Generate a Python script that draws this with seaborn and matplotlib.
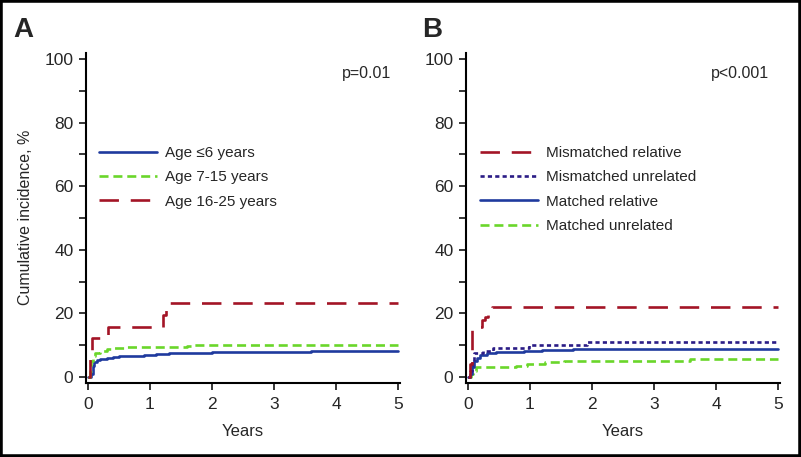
import numpy as np
import pandas as pd
import matplotlib
matplotlib.use('Agg')
import matplotlib.pyplot as plt
import seaborn as sns
from matplotlib.ticker import MultipleLocator
from matplotlib.patches import Rectangle

# panel A: cumulative incidence by age group (years, %)
age_le6_x = [0, 0.05, 0.08, 0.1, 0.15, 0.2, 0.3, 0.4, 0.5, 0.7, 0.9, 1.0, 1.1, 1.3, 1.6, 2.0, 3.6, 5.0]
age_le6_y = [0, 1.0, 3.5, 4.8, 5.4, 5.8, 6.1, 6.4, 6.6, 6.7, 6.8, 7.0, 7.3, 7.5, 7.6, 7.8, 8.1, 8.1]
age_7_15_x = [0, 0.03, 0.05, 0.08, 0.12, 0.2, 0.3, 0.4, 0.6, 1.6, 1.7, 5.0]
age_7_15_y = [0, 2.0, 5.0, 6.5, 7.5, 8.3, 8.8, 9.2, 9.3, 9.6, 10.0, 10.0]
age_16_25_x = [0, 0.03, 0.07, 0.33, 1.21, 1.26, 5.0]
age_16_25_y = [0, 6.0, 12.3, 15.6, 19.5, 23.3, 23.3]

# panel B: cumulative incidence by donor type
mis_rel_x = [0, 0.04, 0.07, 0.22, 0.27, 0.33, 0.38, 5.0]
mis_rel_y = [0, 4.0, 15.8, 17.9, 19.0, 20.9, 22.0, 22.0]
mis_unrel_x = [0, 0.04, 0.07, 0.1, 0.25, 0.4, 0.98, 1.92, 5.0]
mis_unrel_y = [0, 2.0, 5.0, 7.5, 8.3, 9.0, 9.9, 10.9, 10.9]
mat_rel_x = [0, 0.03, 0.06, 0.09, 0.14, 0.2, 0.3, 0.45, 0.6, 0.9, 1.2, 1.7, 5.0]
mat_rel_y = [0, 1.0, 3.0, 5.0, 6.0, 6.8, 7.4, 7.8, 8.0, 8.2, 8.5, 8.9, 8.9]
mat_unrel_x = [0, 0.05, 0.08, 0.13, 0.78, 0.95, 1.25, 1.55, 3.58, 5.0]
mat_unrel_y = [0, 1.0, 2.0, 3.1, 3.5, 4.2, 4.7, 5.1, 5.8, 5.8]

sns.set_style('ticks')
plt.rcParams['font.family'] = ['Liberation Sans', 'DejaVu Sans']
plt.rcParams['lines.scale_dashes'] = False

blue = '#1f3a9e'
green = '#6ad62a'
red = '#a31426'
purple = '#2b1c86'

long_dash = (0, (14, 8.5))
short_dash = (0, (6.5, 3.5))
dotted = (0, (3, 2.3))
lw = 1.9

fig = plt.figure(figsize=(8.01, 4.57), dpi=100)
ax_a = fig.add_axes([86 / 801, 74 / 457, 314 / 801, 330 / 457])
ax_b = fig.add_axes([466 / 801, 74 / 457, 314 / 801, 330 / 457])


def draw_curve(ax, xs, ys, color, ls, label):
    sns.lineplot(x=xs, y=ys, ax=ax, color=color, linestyle=ls, linewidth=lw,
                 drawstyle='steps-post', estimator=None, label=label)


draw_curve(ax_a, age_le6_x, age_le6_y, blue, '-', 'Age \u22646 years')
draw_curve(ax_a, age_7_15_x, age_7_15_y, green, short_dash, 'Age 7-15 years')
draw_curve(ax_a, age_16_25_x, age_16_25_y, red, long_dash, 'Age 16-25 years')

draw_curve(ax_b, mat_unrel_x, mat_unrel_y, green, short_dash, 'Matched unrelated')
draw_curve(ax_b, mat_rel_x, mat_rel_y, blue, '-', 'Matched relative')
draw_curve(ax_b, mis_unrel_x, mis_unrel_y, purple, dotted, 'Mismatched unrelated')
draw_curve(ax_b, mis_rel_x, mis_rel_y, red, long_dash, 'Mismatched relative')

for ax in (ax_a, ax_b):
    ax.set_xlim(-0.032, 5.032)
    ax.set_ylim(-1.9, 101.9)
    ax.set_xticks(range(0, 6))
    ax.set_yticks(range(0, 101, 20))
    ax.yaxis.set_minor_locator(MultipleLocator(10))
    ax.tick_params(axis='both', which='both', length=5, width=1.1, color='black',
                   labelsize=12.5, direction='out')
    ax.tick_params(axis='y', pad=4)
    ax.tick_params(axis='x', pad=5)
    for side in ('top', 'right'):
        ax.spines[side].set_visible(False)
    for side in ('left', 'bottom'):
        ax.spines[side].set_linewidth(1.5)
        ax.spines[side].set_color('black')
    ax.set_xlabel('Years', fontsize=12, labelpad=9)
    ax.set_ylabel('')

ax_a.text(4.89, 95.6, 'p=0.01', ha='right', va='center', fontsize=11.5)
ax_b.text(4.85, 95.6, 'p<0.001', ha='right', va='center', fontsize=11.5)

leg_kw = dict(loc='upper left', frameon=False, fontsize=11, borderaxespad=0,
              borderpad=0, handlelength=3.8, handletextpad=0.5, labelspacing=0.68)
h, l = ax_a.get_legend_handles_labels()
ax_a.legend(h, l, bbox_to_anchor=(0.041, 0.718), **leg_kw)
h, l = ax_b.get_legend_handles_labels()
ax_b.legend(h[::-1], l[::-1], bbox_to_anchor=(0.045, 0.718), **leg_kw)

fig.text(26 / 801, 1 - 217 / 457, 'Cumulative incidence, %', rotation=90,
         ha='center', va='center', fontsize=11.5)

fig.text(23 / 801, 1 - 30 / 457, 'A', ha='center', va='center', fontsize=20,
         fontweight='bold')
fig.text(432 / 801, 1 - 30 / 457, 'B', ha='center', va='center', fontsize=20,
         fontweight='bold')

fig.patches.append(Rectangle((0, 0), 1, 1, transform=fig.transFigure, fill=False,
                             edgecolor='black', linewidth=4, figure=fig))

fig.savefig('out.png', dpi=100)
